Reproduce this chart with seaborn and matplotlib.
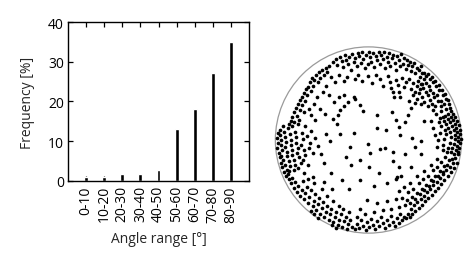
import matplotlib
matplotlib.use("Agg")
import matplotlib.pyplot as plt
import seaborn as sns
import pandas as pd
from matplotlib.patches import Circle

sns.set_style("ticks")
plt.rcParams['font.family'] = ['Open Sans', 'DejaVu Sans']

# ---- histogram data ----
categories = ["0-10", "10-20", "20-30", "30-40", "40-50",
              "50-60", "60-70", "70-80", "80-90"]
frequency = [1.0, 1.0, 1.7, 1.7, 2.8, 13.2, 18.2, 27.2, 35.0]
y_ticks = [0, 10, 20, 30, 40]

# ---- projection plot: point readings (picture units, y downward) ----
circle_center = (327, 318)
circle_radius = 288

top_band = [
    (218,78),(226,66),(231,87),(239,60),(244,74),(249,93),(253,55),(258,69),(263,84),(268,62),
    (272,101),(277,52),(281,76),(286,65),(290,90),(294,50),(299,58),(303,80),(307,47),(311,68),
    (316,95),(319,54),(324,84),(329,46),(333,62),(336,77),(341,49),(345,91),(349,58),(354,71),
    (358,47),(362,83),(367,55),(371,66),(375,45),(379,96),(383,60),(387,77),(392,50),(395,88),
    (399,64),(404,55),(408,80),(413,102),(416,58),(421,71),(425,90),(429,53),(433,82),(437,64),
    (442,97),(446,72),(450,86),(455,78),(459,104),(463,89),(468,80),(472,112),(477,94),(483,102),
    (488,89),(494,110),
    (212,124),(224,140),(236,118),(250,135),(262,122),(284,128),(296,116),(308,134),(326,120),(338,142),
    (350,118),(364,128),(372,150),(386,120),(394,138),(398,156),(404,170),(407,185),(412,132),(418,148),
    (420,168),(426,184),(432,126),(436,154),(444,140),(452,128),(458,160),(466,142),(472,170),(480,136),
    (486,160),(494,146),
]
upper_left_band = [
    (205,88),(195,94),(199,108),(184,100),(188,116),(174,108),(178,126),(166,118),(160,132),(170,140),
    (152,126),(146,140),(156,150),(140,154),(148,166),(134,160),(128,172),(138,180),(122,184),(130,196),
    (116,194),(110,206),(122,210),(104,218),(114,226),(98,232),(106,244),(92,246),(86,258),(98,262),
    (80,270),(112,256),(128,232),(142,222),(160,206),(150,240),(168,186),(186,168),(176,222),(196,150),
    (206,178),(220,200),(236,186),(250,178),(194,236),(162,256),(216,252),(240,226),(264,200),(284,190),
]
left_band = [
    (46,296),(44,312),(46,326),(45,342),(49,358),(52,372),(56,388),(60,402),(66,416),(52,286),
    (54,304),(58,318),(55,334),(60,350),(58,366),(64,380),(68,396),(74,410),(62,276),(66,292),
    (69,310),(72,324),(68,340),(76,354),(74,368),(80,384),(84,398),(82,414),(78,282),(84,300),
    (88,318),(86,334),(92,350),(90,364),(96,380),(100,394),(96,410),(92,276),(100,292),(104,308),
    (102,326),(108,342),(106,358),(112,372),(118,388),(110,404),(120,296),(124,316),(118,334),(128,350),
    (132,364),(126,380),(140,394),(136,306),(146,326),(142,342),(154,358),(150,290),(162,312),(170,338),
    (130,276),(108,270),
]
lower_left_band = [
    (72,428),(80,440),(78,424),(86,452),(92,436),(96,466),(100,448),(106,478),(110,460),(116,490),
    (120,472),(124,444),(128,500),(132,482),(136,462),(140,512),(144,494),(150,474),(154,522),(158,506),
    (162,486),(166,534),(170,516),(174,498),(178,546),(182,528),(186,510),(190,556),(196,540),(200,522),
    (204,564),(208,548),(212,530),(218,572),(222,556),(226,540),(232,580),(236,564),(242,548),(246,586),
    (250,570),(256,556),(260,592),(264,578),(270,564),(276,586),(140,440),(160,452),(184,470),(200,490),
    (218,508),(236,522),(148,536),(158,546),(170,560),(214,582),(228,590),(128,420),(156,432),(248,530),
    (266,540),(190,448),(214,470),
]
bottom_band = [
    (284,594),(292,578),(298,590),(304,566),(310,584),(318,596),(322,572),(330,588),(336,562),(342,580),
    (348,594),(354,570),(360,584),(366,556),(372,576),(378,590),(384,566),(390,580),(396,552),(402,572),
    (408,584),(414,560),(420,574),(426,546),(432,566),(438,556),(290,556),(316,548),(344,540),(372,534),
    (398,530),(420,524),(300,530),(352,512),(384,508),(412,500),
]
lower_right_band = [
    (442,560),(448,546),(454,556),(458,532),(462,546),(468,520),(472,538),(478,510),(482,528),(488,500),
    (492,518),(498,490),(502,508),(508,480),(512,498),(518,470),(522,488),(528,458),(532,476),(538,448),
    (542,466),(548,436),(552,454),(558,424),(562,442),(568,412),(572,430),(578,400),(582,418),(588,388),
    (592,404),(596,374),(600,390),(604,362),(440,520),(446,504),(456,512),(462,494),(470,500),(476,482),
    (486,486),(492,468),(500,474),(506,456),(514,460),(520,442),(528,444),(534,428),(542,430),(548,414),
    (556,416),(562,398),(570,396),(576,380),(584,376),(450,480),(466,470),(482,452),(496,440),(512,428),
    (526,412),(540,400),(552,386),(564,372),(432,496),(436,464),(420,476),(456,452),(478,430),(500,414),
    (520,394),(538,376),(412,440),(428,428),
]
right_band = [
    (610,300),(612,314),(611,328),(608,342),(604,354),(609,286),(606,272),(601,260),(595,248),(588,238),
    (581,228),(604,308),(605,322),(601,336),(597,348),(592,360),(602,294),(599,280),(594,268),(588,256),
    (582,246),(574,236),(594,316),(596,302),(590,330),(586,344),(582,356),(590,288),(586,276),(580,262),
    (572,252),(564,244),(556,246),(548,250),(582,310),(578,326),(574,342),(570,356),(580,294),(574,280),
    (568,268),(560,258),(566,300),(562,316),(558,334),(556,350),(564,286),(552,274),(544,262),(548,296),
    (542,318),(538,340),(532,302),(526,280),(520,258),(536,236),(528,224),(552,228),
]
upper_right_band = [
    (498,112),(506,120),(512,114),(516,130),(522,124),(526,140),(534,136),(536,152),(544,148),(546,164),
    (554,162),(556,178),(564,176),(566,192),(574,194),(576,208),(580,218),(500,130),(506,142),(514,150),
    (518,164),(526,172),(530,186),(538,180),(542,198),(550,196),(552,212),(560,208),(568,222),(490,144),
    (496,158),(504,168),(510,180),(518,194),(522,208),(532,212),(484,172),(494,186),(500,200),(510,214),
    (476,190),(488,206),(466,180),(470,204),(452,196),(460,218),(486,124),(476,152),
]
interior = [
    (180,362),(208,322),(238,300),(282,296),(326,330),(332,358),(362,346),(378,344),(402,356),(402,382),
    (352,282),(380,286),(426,302),(462,312),(470,340),(490,322),(302,380),(272,396),(246,442),(266,470),
    (300,442),(322,502),(416,432),(232,240),(252,214),(282,186),(310,228),(352,242),(400,232),(412,256),
    (440,262),(420,278),(300,210),(230,270),(270,340),(440,362),(330,400),(360,420),(420,400),(190,390),
    (212,420),(344,460),(384,452),(450,240),(500,260),(488,360),(460,400),(196,300),(256,370),
]
points = (top_band + upper_left_band + left_band + lower_left_band + bottom_band
          + lower_right_band + right_band + upper_right_band + interior)
px = [p[0] for p in points]
py = [p[1] for p in points]

fig = plt.figure(figsize=(4.7, 2.55), dpi=100)

# ---- histogram ----
ax1 = fig.add_axes([0.1447, 0.2863, 0.3851, 0.6235])
df = pd.DataFrame({"range": categories, "freq": frequency})
sns.barplot(data=df, x="range", y="freq", color="black", width=0.22,
            saturation=1, ax=ax1)
ax1.set_xlim(-1, 9)
ax1.set_ylim(0, 40)
ax1.set_yticks(y_ticks)
ax1.tick_params(direction="in", top=True, right=True, length=3.5,
                width=0.9, labelsize=10, pad=3, colors="black")
ax1.tick_params(axis="x", labelrotation=90)
for s in ax1.spines.values():
    s.set_visible(True)
    s.set_linewidth(1.0)
    s.set_color("black")
ax1.set_xlabel("Angle range [°]", fontsize=10, labelpad=7)
ax1.set_ylabel("Frequency [%]", fontsize=10, labelpad=9)

# ---- projection ----
ax2 = fig.add_axes([0.581, 0.078, 0.406, 0.738])
ax2.set_aspect("equal")
ax2.add_patch(Circle(circle_center, circle_radius, facecolor="none",
                     edgecolor="#9a9a9a", linewidth=0.9))
sns.scatterplot(x=px, y=py, color="black", s=7, linewidth=0, ax=ax2)
ax2.set_xlim(circle_center[0] - circle_radius - 3, circle_center[0] + circle_radius + 3)
ax2.set_ylim(circle_center[1] + circle_radius + 3, circle_center[1] - circle_radius - 3)
ax2.axis("off")

fig.savefig("out.png", dpi=100)
